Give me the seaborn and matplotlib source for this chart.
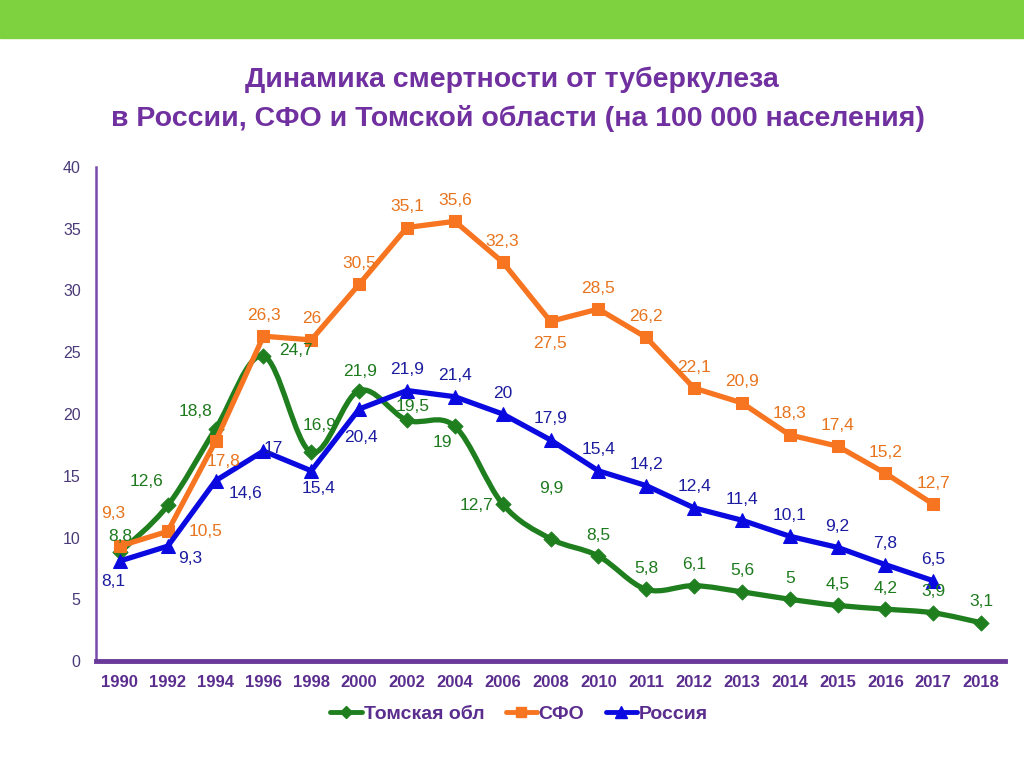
import numpy as np
import pandas as pd
import matplotlib
matplotlib.use("Agg")
import matplotlib.pyplot as plt
import seaborn as sns
from matplotlib.path import Path
from matplotlib.patches import PathPatch, Rectangle
from matplotlib.lines import Line2D

years = ["1990", "1992", "1994", "1996", "1998", "2000", "2002", "2004", "2006", "2008",
         "2010", "2011", "2012", "2013", "2014", "2015", "2016", "2017", "2018"]
tomsk = [8.8, 12.6, 18.8, 24.7, 16.9, 21.9, 19.5, 19, 12.7, 9.9,
         8.5, 5.8, 6.1, 5.6, 5, 4.5, 4.2, 3.9, 3.1]
sfo = [9.3, 10.5, 17.8, 26.3, 26, 30.5, 35.1, 35.6, 32.3, 27.5,
       28.5, 26.2, 22.1, 20.9, 18.3, 17.4, 15.2, 12.7, np.nan]
russia = [8.1, 9.3, 14.6, 17, 15.4, 20.4, 21.9, 21.4, 20, 17.9,
          15.4, 14.2, 12.4, 11.4, 10.1, 9.2, 7.8, 6.5, np.nan]

# label offsets in pixels (default is straight above the point)
tomsk_off = {0: (0, 16), 1: (-21, 24), 2: (-20, 17), 3: (32, 5), 4: (8, 27), 5: (1, 19),
             6: (6, 14), 7: (-12, -16), 8: (-26, -1), 9: (1, 50)}
sfo_off = {0: (-7, 33), 1: (38, 0), 2: (8, -20), 9: (0, -22)}
russia_off = {0: (-7, -21), 1: (22, -12), 2: (30, -13), 3: (10, 3), 4: (7, -18), 5: (2, -28)}

GREEN = "#1f7f1f"
ORANGE = "#f77420"
BLUE = "#0a0ae0"
PURPLE = "#7030a0"

sns.set_style("white")
plt.rcParams['font.family'] = ['Liberation Sans', 'DejaVu Sans']

df = pd.DataFrame({"pos": np.arange(len(years)), "year": years,
                   "tomsk": tomsk, "sfo": sfo, "russia": russia})

fig = plt.figure(figsize=(10.24, 7.67), dpi=100)
fig.patches.append(Rectangle((0, 1 - 38 / 767), 1, 38 / 767, transform=fig.transFigure,
                             color="#7ed23f", zorder=0))
ax = fig.add_axes([96 / 1024, 106 / 767, 909 / 1024, 494 / 767])


def smooth_path(x, y):
    # cubic bezier through the points (Excel-like smoothing)
    pts = np.column_stack([x, y]).astype(float)
    n = len(pts)
    verts = [pts[0]]
    codes = [Path.MOVETO]
    for i in range(n - 1):
        p0 = pts[i - 1] if i > 0 else pts[i]
        p3 = pts[i + 2] if i + 2 < n else pts[i + 1]
        c1 = pts[i] + (pts[i + 1] - p0) / 6
        c2 = pts[i + 1] - (p3 - pts[i]) / 6
        verts += [c1, c2, pts[i + 1]]
        codes += [Path.CURVE4] * 3
    return Path(verts, codes)


ax.add_patch(PathPatch(smooth_path(df["pos"], df["tomsk"]), facecolor="none",
                       edgecolor=GREEN, lw=3.8, zorder=3, capstyle="round"))
sns.scatterplot(data=df, x="pos", y="tomsk", marker="D", s=60, color=GREEN,
                edgecolor=GREEN, ax=ax, zorder=4, legend=False)
sns.lineplot(data=df, x="pos", y="sfo", color=ORANGE, lw=3.8, marker="s", markersize=9,
             markeredgecolor=ORANGE, ax=ax, zorder=5)
sns.lineplot(data=df, x="pos", y="russia", color=BLUE, lw=3.8, marker="^", markersize=10,
             markeredgecolor=BLUE, ax=ax, zorder=6)


def fmt(v):
    return ("%g" % v).replace(".", ",")


for col, offs, tcolor in [("tomsk", tomsk_off, "#1e7a1e"), ("sfo", sfo_off, "#e8741e"),
                          ("russia", russia_off, "#1c1ca0")]:
    for i, v in enumerate(df[col]):
        if np.isnan(v):
            continue
        dx, dy = offs.get(i, (0, 21))
        ax.annotate(fmt(v), (i, v), xytext=(dx, dy), textcoords="offset pixels",
                    ha="center", va="center", fontsize=12.5, color=tcolor, zorder=8)

ax.set_xlim(-0.5, len(years) - 0.5)
ax.set_ylim(0, 40)
ax.set_yticks(range(0, 41, 5))
ax.set_xticks(df["pos"])
ax.set_xticklabels(years, fontsize=12, fontweight="bold", color="#5a2d8e")
ax.set_xticks(np.arange(-0.5, len(years), 1), minor=True)
ax.tick_params(axis="x", which="major", length=0, pad=10)
ax.tick_params(axis="x", which="minor", length=5, width=2.5, color="#6a3a9a", direction="out")
ax.tick_params(axis="y", length=5, width=1.5, color="#6a3a9a", labelsize=11.5,
               labelcolor="#4a3a78", direction="out", pad=6)
ax.set_xlabel("")
ax.set_ylabel("")
for s in ["top", "right"]:
    ax.spines[s].set_visible(False)
ax.spines["left"].set_color("#7a4aaa")
ax.spines["left"].set_linewidth(1.8)
ax.spines["bottom"].set_color("#6a3a9a")
ax.spines["bottom"].set_linewidth(3.5)

fig.text(0.5, 1 - 80 / 767, "Динамика смертности от туберкулеза", ha="center", va="center",
         fontsize=20.5, fontweight="bold", color=PURPLE)
fig.text(0.506, 1 - 118 / 767, "в России, СФО и Томской области (на 100 000 населения)",
         ha="center", va="center", fontsize=20.5, fontweight="bold", color=PURPLE)

handles = [Line2D([], [], color=GREEN, lw=3.5, marker="D", markersize=6),
           Line2D([], [], color=ORANGE, lw=3.5, marker="s", markersize=7),
           Line2D([], [], color=BLUE, lw=3.5, marker="^", markersize=8)]
leg = fig.legend(handles, ["Томская обл", "СФО", "Россия"], loc="center",
                 bbox_to_anchor=(0.507, 1 - 714 / 767), ncol=3, frameon=False,
                 handlelength=1.6, handletextpad=0.1, columnspacing=1.1,
                 prop={"size": 14, "weight": "bold"})
for t in leg.get_texts():
    t.set_color("#5a2d8e")

fig.savefig("out.png", dpi=100)
